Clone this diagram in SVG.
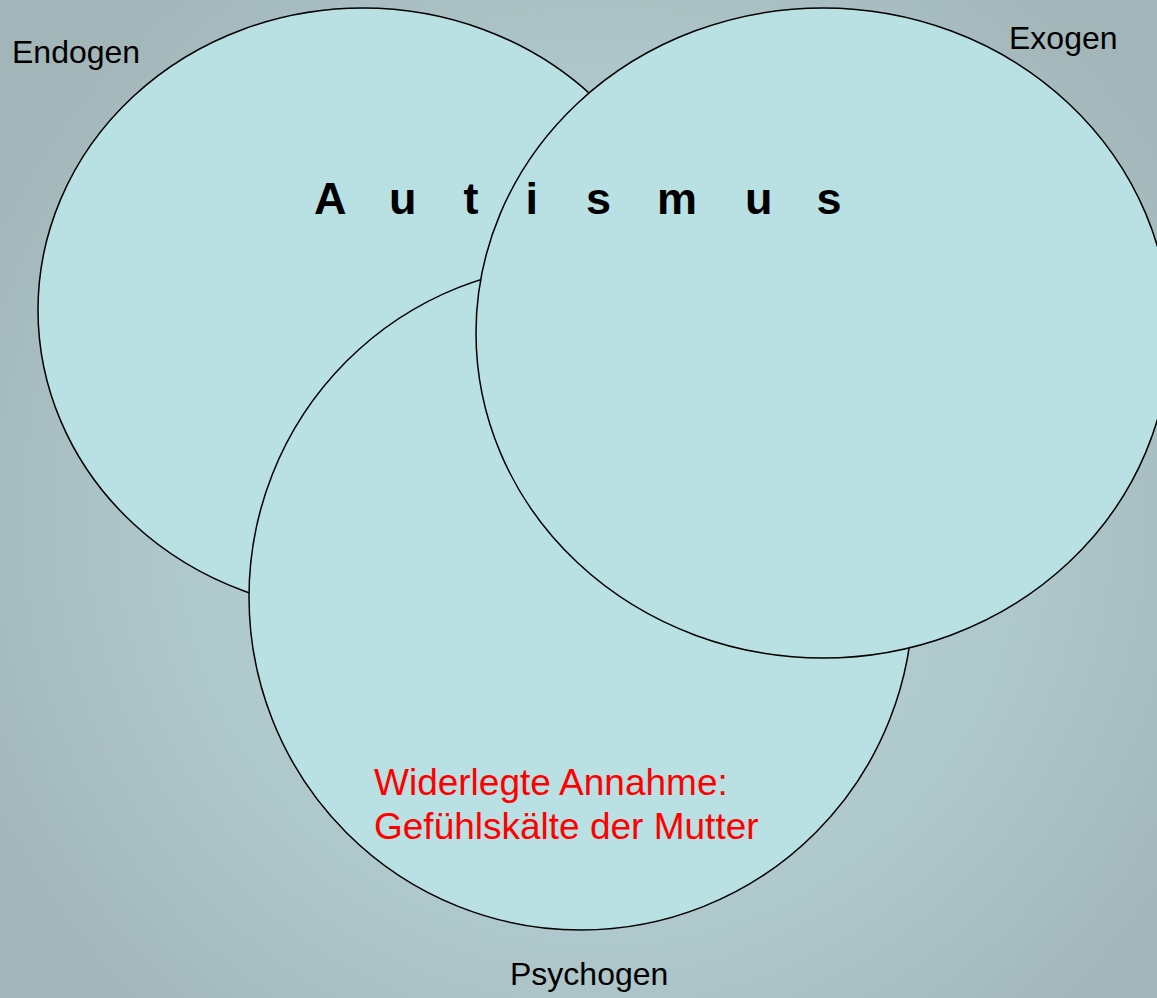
<svg xmlns="http://www.w3.org/2000/svg" width="1157" height="998" viewBox="0 0 1157 998">
  <defs>
    <radialGradient id="bg" cx="600" cy="520" r="700" gradientUnits="userSpaceOnUse">
      <stop offset="0" stop-color="#B8D3D6"/>
      <stop offset="0.6" stop-color="#AFC8CB"/>
      <stop offset="1" stop-color="#A2B5B9"/>
    </radialGradient>
  </defs>
  <style>
    .set { fill: #B9E0E3; stroke: #000000; stroke-width: 1.5; }
    .lbl { font-family: "Liberation Sans", Arial, sans-serif; font-size: 32px; fill: #000000; }
    .title { font-family: "Liberation Sans", Arial, sans-serif; font-size: 45px; font-weight: bold; fill: #000000; }
    .note { font-family: "Liberation Sans", Arial, sans-serif; font-size: 37px; fill: #FF0000; }
  </style>
  <rect x="0" y="0" width="1157" height="998" fill="url(#bg)"/>
  <g id="endogen">
    <ellipse class="set" cx="363" cy="310" rx="325" ry="302"/>
    <text class="lbl" x="12" y="63">Endogen</text>
  </g>
  <g id="psychogen">
    <ellipse class="set" cx="581" cy="597" rx="332" ry="333"/>
    <text class="lbl" x="510" y="985">Psychogen</text>
    <text class="note" x="374" y="795">Widerlegte Annahme:</text>
    <text class="note" x="374" y="839">Gefühlskälte der Mutter</text>
  </g>
  <g id="exogen">
    <ellipse class="set" cx="823" cy="333" rx="347" ry="325"/>
    <text class="lbl" x="1009" y="49">Exogen</text>
  </g>
  <g id="title">
    <text class="title" x="314 360 389 430 463.5 500 525.5 560 586 625 657 705 745 785 816.5" y="214">A u t i s m u s</text>
  </g>
  <g id="connectors"/>
</svg>
